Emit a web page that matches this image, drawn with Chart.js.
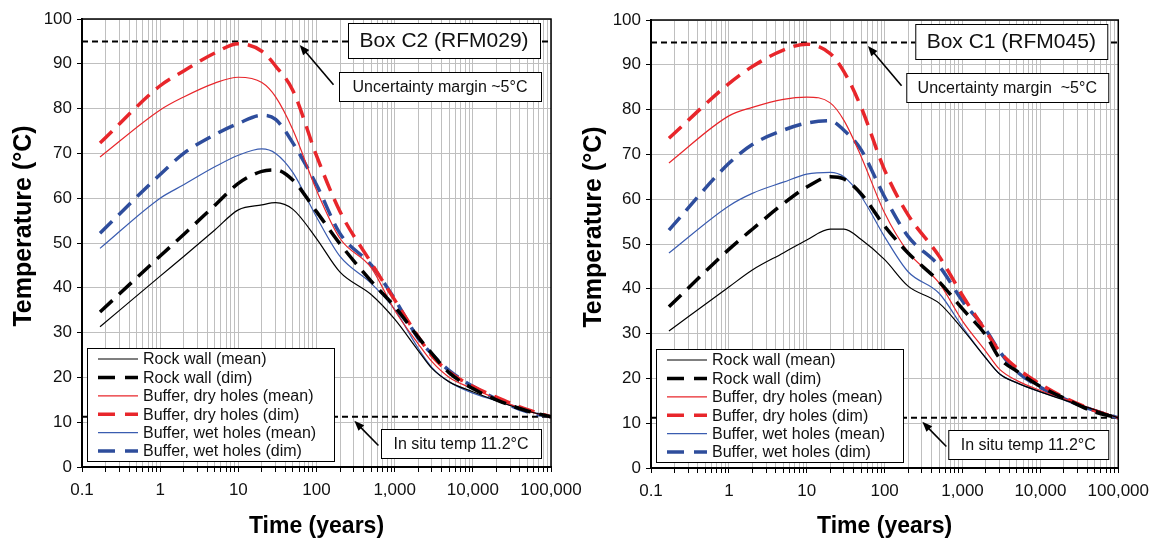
<!DOCTYPE html>
<html>
<head>
<meta charset="utf-8">
<script src="https://cdn.jsdelivr.net/npm/chart.js@4.4.0/dist/chart.umd.min.js"></script>
<style>
html, body { margin: 0; padding: 0; background: #fff; width: 1157px; height: 542px; overflow: hidden; }
canvas { position: absolute; top: 0; }
#boxC2 { left: 0; }
#boxC1 { left: 578px; }
</style>
</head>
<body>
<canvas id="boxC2" width="600" height="542"></canvas>
<canvas id="boxC1" width="579" height="542"></canvas>
<script>
// time axis (years) shared by all curves
const years = [0.17, 1, 2, 5, 10, 20, 30, 50, 100, 200, 500, 1000, 2000, 3000, 5000, 10000, 20000, 50000, 100000]

// Box C2 (RFM029)
const c2RockMean = [31.3, 42.6, 47, 52.9, 57.4, 58.5, 59, 57.5, 51, 43.5, 38.5, 33, 26, 22, 19, 16.8, 14.8, 12.5, 11.2]
const c2RockDim = [34.6, 47.1, 51.9, 58.4, 63.3, 66, 66.3, 64, 57, 49.8, 41.5, 35.8, 29, 25.3, 21, 17.5, 15, 12.5, 11.2]
const c2DryMean = [69.2, 79.7, 82.6, 85.7, 87, 85.8, 82.6, 75.2, 61.8, 51, 44.5, 35, 27.5, 23.5, 20, 17.5, 15.3, 12.5, 11.2]
const c2DryDim = [72.3, 85.1, 88.4, 92.4, 94.5, 92.8, 89.5, 84, 69.5, 57, 45.6, 37.3, 29.1, 24.8, 21.2, 18, 15.6, 12.8, 11.2]
const c2WetMean = [48.8, 60, 63, 67, 69.6, 71, 70, 65.7, 55.8, 47, 41, 35.2, 26.5, 22.2, 19, 16.5, 14.8, 12.5, 11.2]
const c2WetDim = [52.2, 65.3, 70, 74.2, 76.7, 78.5, 77.6, 72.3, 63, 52.1, 45.1, 37.5, 28.7, 25.2, 21.5, 18, 15.2, 12.3, 11.2]

// Box C1 (RFM045)
const c1RockMean = [30.6, 40.4, 44.2, 48, 50.9, 53.3, 53.3, 51, 46.5, 40.6, 36.8, 31, 24.5, 21, 19, 17, 15.2, 13, 11.2]
const c1RockDim = [36, 48.8, 53.3, 59, 62.7, 65, 64.5, 61.2, 54, 48, 41.6, 35.5, 29.6, 24.5, 21.6, 18.2, 15.6, 12.5, 11.2]
const c1DryMean = [68.1, 78.6, 80.5, 82.3, 82.8, 81.5, 77.6, 69.5, 56.9, 48.2, 41.3, 32.8, 26, 22, 19.5, 17.3, 15.5, 13, 11.2]
const c1DryDim = [73.6, 85.8, 89.6, 93.3, 94.6, 92.5, 88.5, 80.5, 66.5, 56.5, 47.3, 38.5, 30.5, 26, 22.3, 18.7, 15.8, 12.8, 11.2]
const c1WetMean = [48, 58.5, 61.3, 63.8, 65.6, 66, 65, 60.6, 51.6, 43.8, 39, 31.5, 24.5, 21, 19, 17, 15.3, 13, 11.2]
const c1WetDim = [53.1, 68, 72.2, 75.4, 77, 77.5, 75.4, 71, 60.5, 51.7, 45.1, 37.3, 30.8, 26, 21.5, 18, 15.5, 12.8, 11.2]

const seriesLabels = ['Rock wall (mean)', 'Rock wall (dim)', 'Buffer, dry holes (mean)', 'Buffer, dry holes (dim)', 'Buffer, wet holes (mean)', 'Buffer, wet holes (dim)']

// reference levels (°C)
const marginTemp = 95
const inSituTemp = 11.2

// x axis
const xRange = [0.1, 100000]
const decadeValues = [0.1, 1, 10, 100, 1000, 10000, 100000]
const decadeLabels = ['0.1', '1', '10', '100', '1,000', '10,000', '100,000']

const FONT = "'Liberation Sans', Arial, sans-serif"

const seriesStyle = [
	{ color: '#000000', width: 1.2, dash: [] },
	{ color: '#000000', width: 3.5, dash: [17, 9] },
	{ color: '#e8262b', width: 1.2, dash: [] },
	{ color: '#e8262b', width: 3.5, dash: [17, 9] },
	{ color: '#3a5cb0', width: 1.2, dash: [] },
	{ color: '#2e4d9c', width: 3.5, dash: [17, 9] },
]

function makeDatasets(seriesValues) {
	let sets = seriesValues.map((vals, i) => ({
		label: seriesLabels[i],
		data: years.map((t, k) => ({ x: t, y: vals[k] })),
		borderColor: seriesStyle[i].color,
		borderWidth: seriesStyle[i].width,
		borderDash: seriesStyle[i].dash,
		cubicInterpolationMode: 'monotone',
		inLegend: true,
	}))
	// reference lines
	;[marginTemp, inSituTemp].forEach((lvl) => {
		sets.push({
			label: 'ref',
			data: xRange.map((t) => ({ x: t, y: lvl })),
			borderColor: '#000',
			borderWidth: 2,
			borderDash: [6, 4],
			inLegend: false,
		})
	})
	return sets
}

// minor log ticks 1..9 x 10^n for the grid
function logTicks() {
	let ticks = []
	decadeValues.slice(0, -1).forEach((d) => {
		for (let m = 1; m < 10; m++) ticks.push({ value: +(d * m).toPrecision(3) })
	})
	ticks.push({ value: xRange[1] })
	return ticks
}

function drawBox(ctx, x, y, w, h, text, size) {
	ctx.fillStyle = '#fff'
	ctx.fillRect(x, y, w, h)
	ctx.strokeStyle = '#000'
	ctx.lineWidth = 1
	ctx.setLineDash([])
	ctx.strokeRect(x + 0.5, y + 0.5, w, h)
	ctx.fillStyle = '#111'
	ctx.font = size + 'px ' + FONT
	ctx.textAlign = 'center'
	ctx.textBaseline = 'middle'
	ctx.fillText(text, x + w / 2, y + h / 2 + 1)
}

function drawArrow(ctx, x0, y0, x1, y1) {
	let ang = Math.atan2(y1 - y0, x1 - x0)
	let len = 10
	ctx.strokeStyle = '#000'
	ctx.fillStyle = '#000'
	ctx.lineWidth = 1.6
	ctx.setLineDash([])
	ctx.beginPath()
	ctx.moveTo(x0, y0)
	ctx.lineTo(x1 - Math.cos(ang) * len * 0.8, y1 - Math.sin(ang) * len * 0.8)
	ctx.stroke()
	ctx.beginPath()
	ctx.moveTo(x1, y1)
	ctx.lineTo(x1 - len * Math.cos(ang) + 4 * Math.sin(ang), y1 - len * Math.sin(ang) - 4 * Math.cos(ang))
	ctx.lineTo(x1 - len * Math.cos(ang) - 4 * Math.sin(ang), y1 - len * Math.sin(ang) + 4 * Math.cos(ang))
	ctx.closePath()
	ctx.fill()
}

const notesPlugin = {
	id: 'notes',
	afterDraw(chart, args, opts) {
		const { ctx, chartArea: a, scales } = chart
		const x = scales.x
		const y = scales.y
		ctx.save()

		// frame
		ctx.strokeStyle = '#000'
		ctx.lineWidth = 1.5
		ctx.setLineDash([])
		ctx.strokeRect(a.left, a.top, a.right - a.left, a.bottom - a.top)

		// boxes
		drawBox(ctx, a.right - 11 - 192, a.top + 4, 192, 35, opts.title, 21)
		drawBox(ctx, a.right - 10 - 202, a.top + 53, 202, 29, opts.margin, 16)
		drawBox(ctx, a.right - 10 - 160, a.bottom - 38, 160, 29, 'In situ temp 11.2°C', 16)

		// arrows
		drawArrow(ctx, x.getPixelForValue(165), y.getPixelForValue(85.3), x.getPixelForValue(61), y.getPixelForValue(94.2))
		drawArrow(ctx, x.getPixelForValue(620), y.getPixelForValue(4.8), x.getPixelForValue(305), y.getPixelForValue(10.3))

		// legend
		let lx = a.left + 5
		let ly = a.bottom - 119
		ctx.fillStyle = '#fff'
		ctx.fillRect(lx, ly, 247, 113)
		ctx.strokeStyle = '#000'
		ctx.lineWidth = 1
		ctx.strokeRect(lx + 0.5, ly + 0.5, 247, 113)
		ctx.font = '16px ' + FONT
		ctx.textAlign = 'left'
		ctx.textBaseline = 'middle'
		chart.data.datasets.filter((d) => d.inLegend).forEach((d, i) => {
			let ry = ly + 11 + i * 18.4
			ctx.strokeStyle = d.borderColor
			ctx.lineWidth = d.borderWidth
			ctx.setLineDash(d.borderDash.length ? [17, 10] : [])
			ctx.beginPath()
			ctx.moveTo(lx + 11, ry)
			ctx.lineTo(lx + 51, ry)
			ctx.stroke()
			ctx.fillStyle = '#111'
			ctx.fillText(d.label, lx + 56, ry + 1)
		})

		// y axis title
		ctx.setLineDash([])
		ctx.translate(opts.yTitleX, a.top + (a.bottom - a.top) / 2 - 17)
		ctx.rotate(-Math.PI / 2)
		ctx.font = 'bold 25px ' + FONT
		ctx.textAlign = 'center'
		ctx.fillStyle = '#000'
		ctx.fillText('Temperature (°C)', 0, 0)
		ctx.restore()
	},
}

function makeChart(canvasId, seriesValues, layout, notes) {
	return new Chart(document.getElementById(canvasId), {
		type: 'line',
		data: { datasets: makeDatasets(seriesValues) },
		options: {
			responsive: false,
			animation: false,
			layout: { padding: { left: 0, top: layout.top, right: layout.right, bottom: 0 } },
			elements: { point: { radius: 0 }, line: { tension: 0 } },
			plugins: {
				legend: { display: false },
				tooltip: { enabled: false },
				notes: notes,
			},
			scales: {
				x: {
					type: 'logarithmic',
					min: xRange[0],
					max: xRange[1],
					afterBuildTicks: (scale) => {
						scale.ticks = logTicks()
					},
					afterFit: (scale) => {
						scale.height = layout.xHeight
					},
					ticks: {
						autoSkip: false,
						maxRotation: 0,
						padding: 8,
						color: '#111',
						font: { family: FONT, size: 17 },
						callback: (v) => {
							let i = decadeValues.findIndex((d) => Math.abs(d - v) / d < 1e-6)
							return i >= 0 ? decadeLabels[i] : ''
						},
					},
					grid: { color: '#bfbfbf', lineWidth: 1, tickColor: '#000', tickLength: 5 },
					border: { color: '#000', width: 2 },
					title: {
						display: true,
						text: 'Time (years)',
						color: '#000',
						font: { family: FONT, size: 23, weight: 'bold' },
						padding: { top: 0, bottom: 2 },
					},
				},
				y: {
					min: 0,
					max: 100,
					afterFit: (scale) => {
						scale.width = layout.yWidth
					},
					ticks: {
						stepSize: 10,
						padding: 5,
						color: '#111',
						font: { family: FONT, size: 17 },
					},
					grid: { color: '#bfbfbf', lineWidth: 1, tickColor: '#000', tickLength: 5 },
					border: { color: '#000', width: 2 },
				},
			},
		},
		plugins: [notesPlugin],
	})
}

makeChart(
	'boxC2',
	[c2RockMean, c2RockDim, c2DryMean, c2DryDim, c2WetMean, c2WetDim],
	{ top: 19, right: 49, xHeight: 75, yWidth: 82 },
	{ title: 'Box C2 (RFM029)', margin: 'Uncertainty margin ~5°C', yTitleX: 24 }
)

makeChart(
	'boxC1',
	[c1RockMean, c1RockDim, c1DryMean, c1DryDim, c1WetMean, c1WetDim],
	{ top: 20, right: 37, xHeight: 74, yWidth: 73 },
	{ title: 'Box C1 (RFM045)', margin: 'Uncertainty margin  ~5°C', yTitleX: 16 }
)
</script>
</body>
</html>
